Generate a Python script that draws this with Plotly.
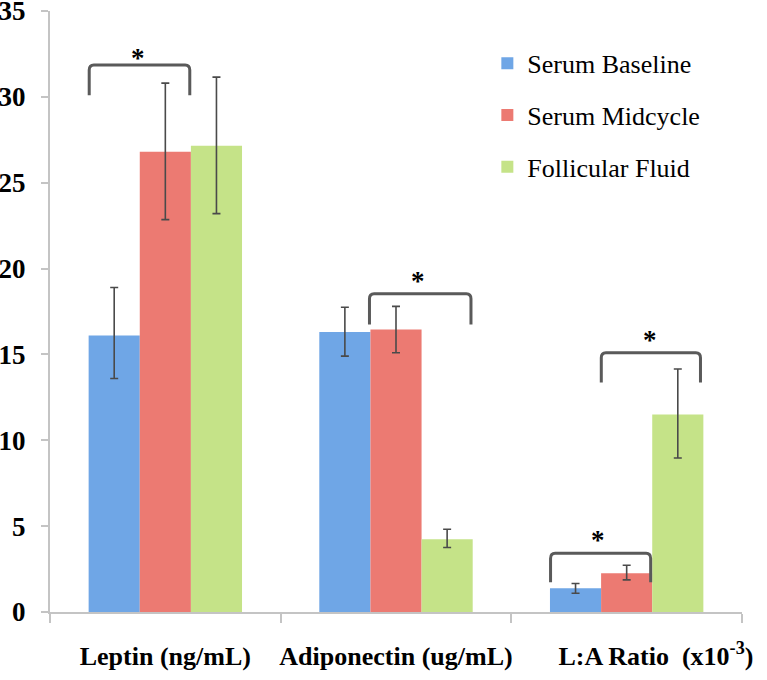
import plotly.graph_objects as go

# ---- data ----
categories = ["Leptin (ng/mL)", "Adiponectin (ug/mL)", "L:A Ratio&nbsp;&nbsp;(x10<sup>-3</sup>)"]
series_names = ["Serum Baseline", "Serum Midcycle", "Follicular Fluid"]

baseline = [16.1, 16.3, 1.38]
baseline_hi = [18.9, 17.75, 1.66]
baseline_lo = [13.6, 14.9, 1.09]

midcycle = [26.8, 16.45, 2.26]
midcycle_hi = [30.8, 17.8, 2.72]
midcycle_lo = [22.85, 15.1, 1.87]

follicular = [27.15, 4.24, 11.5]
follicular_hi = [31.15, 4.82, 14.15]
follicular_lo = [23.2, 3.76, 8.97]

y_ticks = [0, 5, 10, 15, 20, 25, 30, 35]

# significance brackets: category index, left offset, right offset, top, leg bottom, star x offset, star y
brackets = [
    (0, -0.33, 0.106, 31.86, 30.1, -0.12, 32.5),
    (1, -0.115, 0.325, 18.54, 16.75, 0.097, 19.5),
    (2, -0.33, 0.104, 3.42, 1.73, -0.123, 4.4),
    (2, -0.11, 0.32, 15.1, 13.37, 0.10, 16.05),
]

colors = ["#6fa6e6", "#ec7a72", "#c5e388"]
FONT = "Liberation Serif"

x_pos = list(range(len(categories)))
fig = go.Figure()
for name, vals, hi, lo, col in [
    (series_names[0], baseline, baseline_hi, baseline_lo, colors[0]),
    (series_names[1], midcycle, midcycle_hi, midcycle_lo, colors[1]),
    (series_names[2], follicular, follicular_hi, follicular_lo, colors[2]),
]:
    fig.add_trace(go.Bar(
        x=x_pos, y=vals, name=name, legendgroup=name,
        marker=dict(color=col, line=dict(width=0)),
        error_y=dict(type="data", symmetric=False,
                     array=[h - v for h, v in zip(hi, vals)],
                     arrayminus=[v - l for v, l in zip(vals, lo)],
                     color="#4a4a4a", thickness=1.6, width=4),
    ))

shapes = []
annotations = []
rx, ry = 0.02, 0.3
for ci, l, r, top, bot, sx, sy in brackets:
    x0, x1 = ci + l, ci + r
    path = (f"M {x0},{bot} L {x0},{top - ry} Q {x0},{top} {x0 + rx},{top} "
            f"L {x1 - rx},{top} Q {x1},{top} {x1},{top - ry} L {x1},{bot}")
    shapes.append(dict(type="path", path=path, xref="x", yref="y",
                       line=dict(color="#5a5a5a", width=3)))
    annotations.append(dict(x=ci + sx, y=sy, xref="x", yref="y", text="<b>*</b>",
                            showarrow=False, font=dict(size=27, color="black", family=FONT),
                            xanchor="center", yanchor="middle", yshift=-4))

ticktext = [categories[0], categories[1], "&nbsp;" * 9 + categories[2]]

fig.update_layout(
    width=767, height=680,
    margin=dict(l=50, r=25, t=11, b=68),
    paper_bgcolor="white", plot_bgcolor="white",
    barmode="group", bargap=0.335, bargroupgap=0,
    shapes=shapes, annotations=annotations,
    font=dict(family=FONT, color="black"),
    legend=dict(x=0.632, y=0.952, xanchor="left", yanchor="top",
                font=dict(family=FONT, size=26, color="black"),
                tracegroupgap=15, bgcolor="rgba(0,0,0,0)", itemwidth=30),
    showlegend=True,
)
fig.update_xaxes(
    range=[-0.5, 2.5], tickvals=x_pos, ticktext=ticktext, ticks="", tickangle=0,
    showline=True, linecolor="#c4c4c4", linewidth=2, showgrid=False, zeroline=False,
    tickfont=dict(family=FONT, size=26, color="black", weight="bold"),
    ticklabelstandoff=20, automargin=False, ticklabeloverflow="allow",
    minor=dict(ticks="outside", tick0=0.5, dtick=1, ticklen=9, tickcolor="#c4c4c4", tickwidth=2),
)
fig.update_yaxes(
    range=[0, 35], tickvals=y_ticks, ticks="outside", ticklen=7, tickcolor="#c4c4c4", tickwidth=2,
    showline=True, linecolor="#c4c4c4", linewidth=2, showgrid=False, zeroline=False,
    tickfont=dict(family=FONT, size=27, color="black", weight="bold"),
    ticklabelstandoff=10, automargin=False, ticklabeloverflow="allow",
)

fig.write_html("out.html", config={"displayModeBar": False},
               post_script="document.body.style.margin='0';")
